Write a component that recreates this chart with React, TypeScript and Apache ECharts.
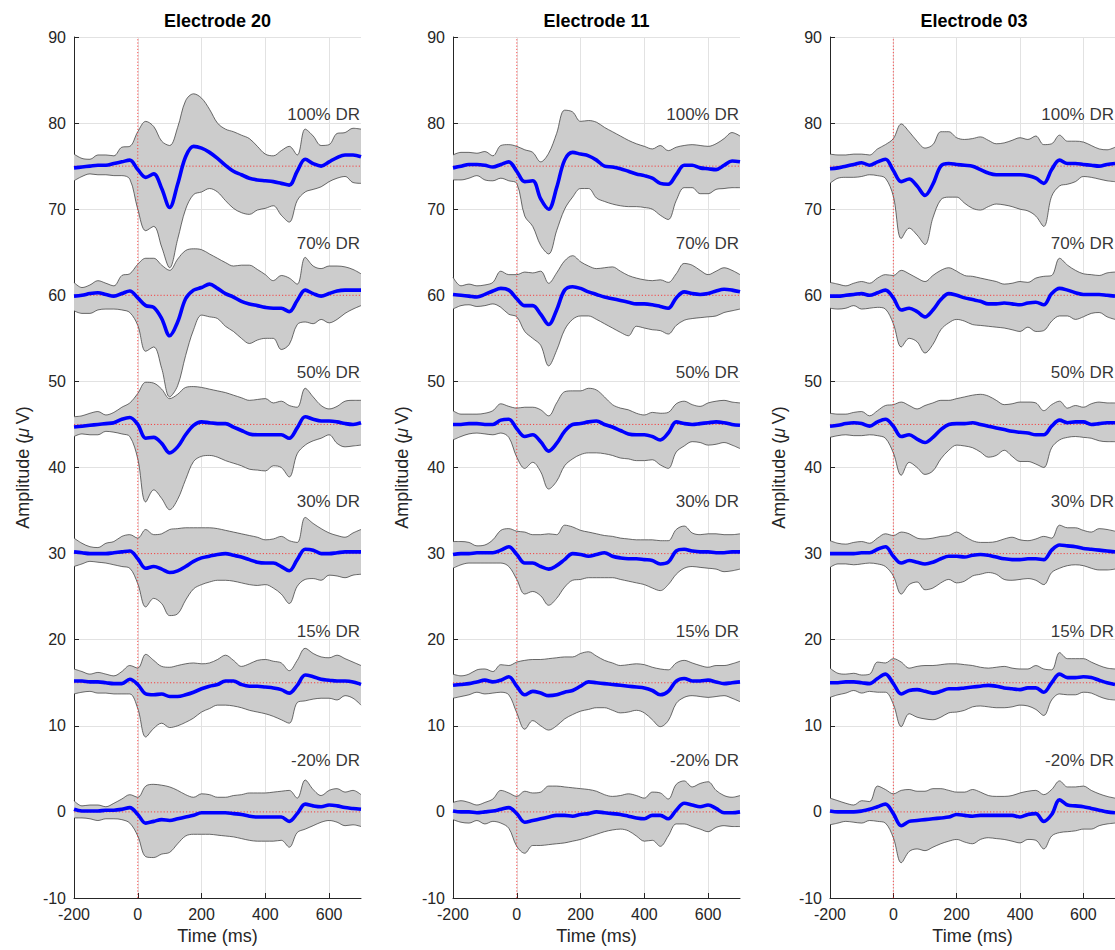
import React, { useEffect, useRef } from 'react';
import * as echarts from 'echarts';

// ---- time samples (ms) ----
const TIME = [-200, -175, -150, -125, -100, -75, -50, -25, 0, 25, 50, 75, 100, 125, 150, 175, 200, 225, 250, 275, 300, 325, 350, 375, 400, 425, 450, 475, 500, 525, 550, 575, 600, 625, 650, 675, 700];
const X_TICKS = [-200, 0, 200, 400, 600];
const Y_RANGE = [-10, 90];
const ONSET_MS = 0;
const TITLES = ['Electrode 20', 'Electrode 11', 'Electrode 03'];
const BASELINES = [75, 60, 45, 30, 15, 0];
const LEVEL_LABELS = ['100% DR', '70% DR', '50% DR', '30% DR', '15% DR', '-20% DR'];
const LABEL_OFFSET = 6;

// ---- Electrode 20 ----
const E20_100_M = [74.8, 74.9, 75.0, 75.1, 75.1, 75.3, 75.5, 75.7, 74.6, 73.7, 74.1, 72.4, 70.2, 72.9, 76.1, 77.3, 77.1, 76.6, 75.9, 75.1, 74.4, 74.0, 73.6, 73.4, 73.3, 73.2, 73.0, 72.8, 74.4, 75.8, 75.3, 75.0, 75.5, 76.0, 76.3, 76.3, 76.1];
const E20_100_U = [76.4, 75.9, 75.8, 76.3, 76.3, 76.2, 77.2, 77.3, 79.0, 80.2, 79.6, 77.9, 77.4, 79.5, 82.6, 83.4, 82.9, 81.6, 80.0, 79.3, 79.0, 78.6, 78.2, 77.3, 76.4, 76.2, 76.8, 77.3, 76.3, 79.3, 78.5, 77.4, 77.5, 78.8, 78.9, 79.4, 79.3];
const E20_100_L = [73.3, 73.8, 74.1, 74.0, 74.0, 73.9, 73.9, 73.5, 70.0, 67.5, 68.0, 65.6, 63.2, 66.5, 70.0, 71.7, 72.0, 72.4, 72.0, 71.0, 70.1, 69.6, 69.4, 69.9, 70.1, 70.4, 69.3, 68.5, 71.0, 72.0, 72.3, 72.6, 73.2, 73.6, 73.8, 73.1, 73.0];
const E20_70_M = [59.9, 60.0, 60.2, 60.3, 60.1, 59.9, 60.2, 60.5, 59.7, 58.8, 58.6, 57.3, 55.3, 56.9, 59.6, 60.6, 60.9, 61.3, 60.8, 60.2, 59.8, 59.3, 59.0, 58.8, 58.6, 58.5, 58.5, 58.1, 59.4, 60.6, 60.2, 59.9, 60.2, 60.5, 60.6, 60.6, 60.6];
const E20_70_U = [61.5, 60.9, 61.2, 61.7, 61.4, 61.1, 62.3, 62.5, 63.6, 64.3, 64.3, 63.5, 62.9, 64.2, 65.2, 65.4, 65.3, 64.8, 64.3, 63.8, 63.4, 63.5, 63.5, 63.0, 62.4, 61.7, 62.3, 62.0, 61.3, 64.4, 63.4, 63.1, 63.4, 63.4, 63.3, 63.0, 62.5];
const E20_70_L = [58.2, 57.9, 57.9, 58.3, 58.4, 58.4, 58.3, 58.0, 56.5, 53.5, 54.0, 51.5, 48.2, 49.5, 53.0, 56.0, 57.7, 57.5, 57.3, 56.4, 55.8, 55.0, 54.4, 54.8, 55.0, 55.0, 53.7, 54.3, 56.6, 56.9, 56.7, 57.2, 56.8, 57.2, 57.9, 58.4, 58.8];
const E20_50_M = [44.7, 44.8, 44.9, 45.0, 45.1, 45.2, 45.6, 45.8, 45.0, 43.4, 43.5, 42.8, 41.7, 42.4, 43.8, 44.9, 45.3, 45.2, 45.1, 45.1, 44.7, 44.3, 43.9, 43.8, 43.8, 43.8, 43.8, 43.4, 44.6, 45.9, 45.6, 45.4, 45.4, 45.3, 45.1, 45.0, 45.2];
const E20_50_U = [45.9, 46.0, 46.3, 46.5, 46.1, 46.4, 47.0, 47.5, 48.6, 49.9, 49.8, 49.1, 48.0, 48.5, 49.3, 49.4, 49.3, 49.1, 48.9, 48.7, 48.4, 48.1, 47.8, 47.9, 48.0, 47.5, 47.7, 47.2, 47.0, 49.2, 48.2, 47.2, 46.8, 47.1, 47.7, 47.8, 47.8];
const E20_50_L = [43.6, 43.9, 43.8, 43.8, 44.2, 44.1, 43.9, 43.6, 41.0, 36.0, 37.4, 36.4, 35.1, 36.3, 38.6, 40.7, 41.3, 41.4, 41.2, 40.8, 40.5, 40.2, 39.8, 39.7, 39.6, 40.2, 40.0, 38.9, 41.6, 42.6, 43.1, 43.4, 43.8, 42.8, 42.4, 42.5, 42.6];
const E20_30_M = [30.2, 30.1, 30.0, 30.0, 30.0, 30.1, 30.2, 30.3, 29.4, 28.3, 28.5, 28.2, 27.8, 28.0, 28.5, 29.1, 29.5, 29.7, 29.9, 30.0, 29.8, 29.6, 29.3, 29.0, 28.9, 28.9, 28.5, 28.0, 29.3, 30.5, 30.4, 30.0, 30.0, 30.1, 30.2, 30.2, 30.2];
const E20_30_U = [31.8, 31.2, 30.8, 30.7, 31.2, 31.4, 32.0, 32.2, 31.8, 32.8, 32.2, 32.3, 32.8, 32.9, 33.0, 33.0, 33.0, 33.0, 32.9, 32.7, 32.5, 32.3, 32.1, 31.9, 31.6, 31.7, 32.0, 31.5, 31.3, 34.2, 33.5, 32.9, 32.4, 32.1, 31.9, 32.4, 32.8];
const E20_30_L = [28.5, 28.8, 29.1, 29.0, 28.9, 28.7, 28.5, 28.3, 26.5, 23.8, 24.8, 24.2, 22.8, 23.0, 24.6, 25.9, 26.4, 26.7, 26.9, 26.9, 26.8, 26.6, 26.4, 26.3, 26.4, 26.0, 25.3, 24.2, 26.2, 27.0, 27.1, 26.9, 27.5, 27.4, 27.2, 27.5, 27.6];
const E20_15_M = [15.2, 15.2, 15.1, 15.1, 15.0, 14.9, 14.9, 15.4, 14.8, 13.7, 13.6, 13.7, 13.4, 13.4, 13.6, 13.9, 14.3, 14.6, 14.8, 15.2, 15.2, 14.8, 14.6, 14.6, 14.5, 14.4, 14.2, 13.8, 14.7, 15.9, 15.7, 15.4, 15.3, 15.2, 15.2, 15.1, 14.8];
const E20_15_U = [16.6, 16.3, 16.0, 16.2, 16.0, 15.8, 16.3, 17.0, 16.7, 18.3, 17.6, 16.9, 16.8, 17.0, 17.2, 17.3, 17.2, 17.3, 17.7, 18.2, 17.6, 16.9, 17.2, 17.6, 17.7, 17.5, 17.3, 16.4, 17.6, 19.0, 18.4, 18.0, 17.9, 18.2, 17.8, 17.4, 17.0];
const E20_15_L = [13.7, 13.9, 14.0, 13.8, 13.8, 13.7, 13.7, 13.7, 12.0, 8.7, 9.7, 10.3, 9.8, 10.0, 10.4, 10.9, 11.6, 12.0, 12.4, 12.4, 12.3, 12.1, 11.8, 11.6, 11.4, 11.1, 10.7, 10.3, 12.7, 12.9, 13.1, 13.2, 13.2, 13.0, 13.5, 13.2, 12.4];
const E20_N20_M = [0.3, 0.1, 0.1, 0.1, 0.2, 0.2, 0.3, 0.5, -0.3, -1.3, -1.1, -0.9, -1.0, -0.8, -0.6, -0.4, -0.1, -0.1, -0.1, -0.1, -0.2, -0.3, -0.5, -0.6, -0.6, -0.6, -0.6, -1.1, -0.2, 0.9, 0.7, 0.6, 0.8, 0.7, 0.5, 0.4, 0.3];
const E20_N20_U = [1.3, 0.7, 0.8, 0.8, 0.6, 1.0, 1.5, 2.0, 1.7, 3.0, 3.2, 3.1, 2.9, 2.5, 2.0, 1.7, 2.1, 2.0, 1.7, 1.7, 1.9, 2.0, 2.2, 2.2, 2.2, 2.3, 2.4, 2.5, 1.6, 3.7, 2.6, 1.9, 2.5, 2.7, 2.3, 2.5, 2.0];
const E20_N20_L = [-0.7, -0.7, -0.8, -1.0, -0.8, -0.8, -0.9, -1.3, -2.8, -5.2, -5.3, -4.9, -4.7, -3.7, -2.8, -2.6, -2.6, -2.6, -2.7, -2.8, -2.9, -3.1, -3.3, -3.4, -3.4, -3.4, -3.3, -4.1, -2.4, -2.0, -1.6, -1.2, -1.0, -1.2, -1.6, -1.5, -1.7];

// ---- Electrode 11 ----
const E11_100_M = [74.8, 75.0, 75.2, 75.2, 75.1, 74.9, 75.2, 75.5, 74.4, 73.2, 73.3, 71.2, 70.0, 72.5, 75.7, 76.6, 76.4, 76.2, 75.7, 75.0, 74.9, 74.7, 74.4, 74.1, 73.9, 73.6, 73.0, 72.9, 74.0, 75.1, 75.1, 74.8, 74.7, 74.6, 75.1, 75.6, 75.5];
const E11_100_U = [76.3, 76.6, 76.6, 76.5, 76.7, 76.2, 77.4, 77.5, 77.3, 76.9, 76.6, 75.5, 76.5, 78.8, 81.5, 81.3, 80.2, 80.3, 80.1, 79.5, 79.0, 78.5, 78.0, 77.6, 77.3, 77.0, 77.4, 76.8, 77.2, 77.4, 77.5, 77.4, 77.3, 77.6, 78.2, 78.9, 78.5];
const E11_100_L = [73.4, 73.4, 73.6, 73.9, 73.4, 73.3, 73.6, 73.3, 73.0, 69.2, 68.0, 65.8, 64.8, 67.5, 70.0, 71.4, 72.4, 72.4, 71.3, 70.9, 70.6, 70.4, 70.3, 70.3, 70.2, 70.0, 69.3, 68.8, 71.0, 72.5, 72.5, 71.8, 71.8, 72.3, 72.4, 72.5, 72.5];
const E11_70_M = [60.1, 60.0, 59.9, 59.8, 60.1, 60.5, 60.8, 60.6, 59.6, 58.8, 58.8, 57.8, 56.6, 58.3, 60.6, 61.0, 60.8, 60.4, 60.1, 59.8, 59.6, 59.4, 59.2, 59.0, 59.0, 58.9, 58.7, 58.5, 59.7, 60.4, 60.2, 60.1, 60.2, 60.5, 60.7, 60.6, 60.4];
const E11_70_U = [62.1, 61.1, 61.3, 61.1, 61.2, 61.5, 62.8, 62.4, 62.4, 62.7, 62.6, 62.8, 61.4, 62.6, 64.0, 64.6, 63.9, 63.4, 63.1, 63.2, 63.3, 62.8, 62.3, 62.0, 61.8, 61.7, 61.8, 61.5, 62.5, 63.7, 63.5, 62.9, 62.4, 62.8, 63.2, 62.9, 62.4];
const E11_70_L = [58.4, 58.8, 58.9, 58.7, 58.8, 59.0, 58.6, 57.8, 57.5, 55.8, 55.0, 54.2, 51.8, 53.6, 56.0, 57.2, 57.6, 57.6, 57.2, 56.7, 56.2, 55.7, 55.3, 56.4, 56.2, 56.0, 55.9, 55.5, 56.5, 57.1, 57.3, 57.4, 57.5, 57.6, 58.0, 58.2, 58.4];
const E11_50_M = [45.0, 45.0, 45.1, 45.1, 45.0, 45.0, 45.5, 45.6, 44.5, 43.6, 43.8, 43.0, 41.9, 42.8, 44.2, 45.0, 45.1, 45.3, 45.4, 45.0, 44.7, 44.3, 43.9, 43.8, 43.8, 43.6, 43.2, 44.0, 45.3, 45.1, 45.0, 45.1, 45.2, 45.3, 45.2, 45.0, 44.9];
const E11_50_U = [46.6, 46.2, 46.2, 46.2, 46.3, 46.6, 47.4, 47.1, 46.9, 47.0, 47.0, 46.7, 46.0, 47.5, 48.8, 48.9, 48.9, 49.2, 49.0, 48.2, 47.3, 46.9, 46.7, 46.3, 46.1, 46.4, 46.3, 46.4, 47.4, 47.7, 47.3, 47.1, 47.5, 47.7, 47.8, 47.6, 47.5];
const E11_50_L = [43.2, 43.6, 43.9, 44.0, 43.9, 43.8, 44.0, 43.5, 41.2, 39.9, 40.6, 39.5, 37.5, 38.4, 40.2, 41.0, 41.5, 41.7, 41.7, 41.6, 41.4, 41.1, 41.0, 40.8, 40.8, 40.9, 40.3, 39.9, 41.8, 42.5, 43.0, 42.9, 42.6, 42.7, 42.9, 42.6, 42.2];
const E11_30_M = [29.9, 30.0, 30.0, 30.1, 30.1, 30.1, 30.4, 30.8, 29.9, 28.9, 28.9, 28.5, 28.2, 28.6, 29.3, 30.0, 29.9, 29.7, 29.9, 30.1, 29.7, 29.5, 29.4, 29.4, 29.3, 29.2, 28.8, 29.0, 30.3, 30.5, 30.3, 30.2, 30.2, 30.1, 30.1, 30.2, 30.2];
const E11_30_U = [31.4, 31.4, 31.3, 30.9, 31.0, 31.6, 32.7, 32.9, 32.6, 32.5, 32.2, 32.2, 32.3, 32.2, 33.3, 33.1, 32.7, 32.5, 32.3, 32.1, 32.0, 31.8, 31.7, 31.6, 31.6, 31.6, 31.5, 31.5, 32.8, 33.2, 32.4, 32.2, 32.3, 32.3, 32.2, 32.2, 32.3];
const E11_30_L = [28.3, 28.7, 28.9, 28.9, 28.9, 28.9, 28.9, 28.5, 27.0, 25.3, 25.6, 25.1, 24.0, 24.8, 26.1, 26.9, 27.0, 27.2, 27.2, 27.2, 27.2, 27.0, 26.8, 26.6, 26.4, 26.0, 25.7, 26.4, 27.6, 28.3, 28.5, 28.4, 28.3, 28.2, 27.9, 28.0, 28.2];
const E11_15_M = [14.7, 14.8, 14.9, 15.1, 15.3, 15.1, 15.3, 15.7, 14.6, 13.6, 14.0, 13.8, 13.5, 13.6, 13.9, 14.1, 14.6, 15.1, 15.0, 14.9, 14.8, 14.7, 14.6, 14.5, 14.4, 14.1, 13.6, 14.0, 15.2, 15.5, 15.2, 15.2, 15.3, 15.1, 14.9, 15.0, 15.1];
const E11_15_U = [16.0, 15.8, 16.0, 16.5, 16.6, 16.3, 17.1, 17.0, 17.4, 17.6, 17.7, 17.7, 17.8, 17.9, 18.0, 18.0, 18.4, 18.6, 18.1, 17.6, 17.3, 17.0, 17.1, 17.2, 17.1, 16.8, 16.6, 16.5, 17.3, 17.6, 17.3, 17.0, 16.8, 17.0, 17.0, 17.2, 17.5];
const E11_15_L = [13.2, 13.4, 13.6, 13.9, 13.7, 13.8, 13.9, 13.6, 11.5, 9.6, 10.6, 10.0, 9.5, 10.0, 10.8, 11.3, 11.7, 11.9, 12.1, 12.1, 11.8, 11.5, 11.6, 11.8, 11.5, 10.7, 9.9, 10.6, 12.6, 13.3, 13.5, 13.4, 13.3, 13.4, 13.5, 13.2, 12.8];
const E11_N20_M = [0.1, 0.0, 0.0, -0.1, 0.0, 0.1, 0.3, 0.5, -0.2, -1.2, -1.0, -0.8, -0.6, -0.4, -0.4, -0.5, -0.3, -0.2, 0.0, -0.1, -0.2, -0.3, -0.5, -0.7, -0.8, -0.4, -0.4, -0.8, 0.2, 1.0, 0.8, 0.6, 0.8, 0.4, -0.1, -0.1, 0.0];
const E11_N20_U = [1.1, 1.3, 1.1, 0.8, 1.1, 1.5, 2.5, 2.2, 1.8, 2.4, 2.2, 2.3, 3.0, 3.0, 2.9, 2.8, 2.7, 2.6, 2.4, 2.0, 1.8, 1.9, 2.1, 1.9, 1.6, 2.3, 2.2, 1.5, 3.2, 3.6, 2.9, 3.3, 3.5, 2.5, 1.9, 1.7, 1.9];
const E11_N20_L = [-0.9, -1.2, -1.3, -1.0, -1.4, -1.1, -1.3, -1.9, -4.0, -4.8, -3.9, -3.9, -3.8, -3.7, -3.6, -3.4, -3.2, -2.9, -2.6, -2.3, -2.1, -2.0, -2.2, -2.8, -3.4, -3.3, -4.0, -2.8, -1.4, -1.4, -1.7, -2.0, -2.3, -1.8, -1.6, -1.7, -1.7];

// ---- Electrode 03 ----
const E03_100_M = [74.7, 74.8, 75.0, 75.2, 75.4, 75.1, 75.5, 75.8, 74.5, 73.2, 73.5, 72.7, 71.6, 72.9, 75.0, 75.3, 75.2, 75.1, 75.0, 74.6, 74.2, 74.0, 74.0, 74.0, 74.0, 73.9, 73.6, 73.0, 74.6, 75.7, 75.3, 75.3, 75.2, 75.1, 75.0, 75.2, 75.3];
const E03_100_U = [76.4, 76.3, 76.3, 76.4, 76.4, 76.3, 77.0, 77.5, 78.2, 79.9, 79.0, 77.9, 77.1, 77.5, 79.0, 79.0, 78.3, 78.1, 78.2, 78.4, 78.0, 77.6, 77.7, 78.0, 78.3, 78.1, 78.5, 77.5, 77.6, 78.6, 77.9, 77.9, 77.8, 77.4, 77.0, 76.9, 77.2];
const E03_100_L = [73.0, 73.6, 73.7, 73.7, 73.8, 74.0, 73.9, 73.6, 71.5, 66.6, 67.8, 67.0, 65.9, 69.0, 71.1, 71.4, 71.4, 70.7, 70.1, 69.9, 70.3, 70.6, 70.5, 70.3, 70.0, 69.8, 69.2, 68.0, 71.5, 72.7, 72.9, 73.2, 73.8, 73.7, 73.5, 73.3, 73.2];
const E03_70_M = [59.9, 59.9, 60.0, 60.1, 60.2, 60.0, 60.3, 60.6, 59.7, 58.3, 58.5, 58.1, 57.5, 58.3, 59.5, 60.2, 60.0, 59.7, 59.5, 59.3, 59.0, 59.0, 59.1, 59.0, 58.9, 59.1, 59.2, 58.9, 60.2, 60.8, 60.6, 60.3, 60.1, 60.1, 60.1, 60.0, 59.9];
const E03_70_U = [61.5, 61.3, 61.1, 61.4, 61.6, 61.4, 62.0, 62.4, 62.3, 62.9, 62.5, 62.0, 61.6, 62.3, 62.9, 63.2, 62.8, 62.3, 62.2, 62.0, 61.8, 61.6, 61.3, 61.4, 61.6, 61.5, 62.0, 62.2, 62.3, 64.3, 63.5, 62.9, 62.5, 62.4, 62.3, 62.6, 62.7];
const E03_70_L = [58.5, 58.4, 58.5, 58.8, 58.4, 58.5, 58.6, 58.4, 56.7, 54.0, 55.0, 54.6, 53.3, 54.3, 56.0, 56.8, 57.2, 57.0, 56.6, 56.5, 56.4, 56.3, 56.2, 56.0, 55.8, 56.3, 55.8, 55.9, 57.0, 57.6, 57.6, 57.2, 57.5, 57.9, 58.0, 57.5, 57.2];
const E03_50_M = [44.8, 44.9, 45.1, 45.2, 45.1, 44.8, 45.3, 45.6, 44.8, 43.6, 43.8, 43.3, 42.9, 43.5, 44.4, 45.0, 45.1, 45.1, 45.2, 45.0, 44.8, 44.6, 44.4, 44.2, 44.1, 44.0, 43.8, 43.8, 44.8, 45.5, 45.2, 45.3, 45.3, 45.0, 45.1, 45.2, 45.2];
const E03_50_U = [46.3, 46.2, 46.2, 46.4, 46.5, 46.0, 46.6, 47.2, 47.3, 47.6, 47.2, 46.8, 47.2, 47.5, 47.8, 47.8, 48.0, 48.2, 48.4, 48.5, 48.3, 47.8, 47.3, 47.4, 47.6, 47.6, 47.5, 46.6, 47.3, 47.7, 46.9, 47.2, 47.0, 47.4, 47.6, 47.5, 47.5];
const E03_50_L = [43.5, 43.7, 43.8, 43.7, 43.7, 43.8, 43.7, 43.4, 41.7, 39.1, 40.6, 40.0, 39.2, 39.6, 41.0, 42.0, 42.6, 42.5, 42.3, 41.8, 41.2, 41.4, 42.0, 41.3, 40.7, 40.7, 40.4, 40.0, 42.3, 43.2, 43.5, 43.6, 43.5, 43.4, 43.1, 43.0, 43.0];
const E03_30_M = [30.0, 30.0, 30.0, 30.0, 30.1, 30.1, 30.5, 30.8, 29.7, 28.9, 29.2, 29.0, 28.8, 29.0, 29.4, 29.7, 29.7, 29.6, 29.8, 29.9, 29.8, 29.6, 29.4, 29.3, 29.3, 29.4, 29.4, 29.3, 30.4, 31.0, 30.9, 30.8, 30.6, 30.5, 30.4, 30.3, 30.2];
const E03_30_U = [31.5, 31.2, 31.1, 31.3, 31.4, 31.2, 31.8, 32.3, 32.1, 32.5, 32.3, 31.8, 31.7, 31.8, 32.0, 32.1, 32.5, 32.0, 31.5, 31.3, 31.3, 31.4, 31.7, 31.9, 31.6, 31.5, 31.7, 32.0, 31.8, 33.3, 33.0, 33.0, 32.7, 32.5, 32.9, 32.8, 32.6];
const E03_30_L = [28.4, 28.8, 28.8, 28.7, 28.8, 28.9, 28.8, 28.5, 27.4, 25.3, 26.4, 26.7, 25.8, 26.0, 26.6, 27.0, 26.6, 26.8, 27.4, 27.6, 27.8, 27.6, 27.0, 26.9, 27.0, 27.1, 26.9, 26.4, 27.8, 28.3, 28.6, 28.7, 28.6, 28.3, 28.1, 28.1, 28.2];
const E03_15_M = [15.0, 15.0, 15.1, 15.1, 15.0, 14.9, 15.5, 16.0, 14.9, 13.7, 14.1, 14.2, 14.0, 13.8, 14.0, 14.3, 14.3, 14.4, 14.5, 14.6, 14.7, 14.6, 14.4, 14.3, 14.2, 14.4, 14.4, 13.9, 15.0, 16.0, 15.6, 15.6, 15.7, 15.6, 15.3, 15.0, 14.8];
const E03_15_U = [16.7, 16.1, 16.0, 16.1, 15.9, 16.0, 17.4, 17.3, 17.8, 17.4, 16.7, 16.9, 17.0, 17.0, 17.1, 17.2, 17.2, 17.1, 17.0, 16.8, 16.7, 16.8, 16.9, 16.7, 16.6, 16.6, 17.0, 16.6, 16.5, 18.5, 17.8, 17.8, 17.8, 17.4, 17.0, 16.7, 16.6];
const E03_15_L = [13.3, 13.6, 13.8, 14.1, 13.8, 14.0, 13.9, 13.9, 12.5, 9.9, 11.4, 11.0, 10.8, 10.7, 11.0, 11.5, 11.6, 11.8, 12.2, 12.3, 12.2, 12.1, 12.1, 12.2, 12.4, 12.3, 11.9, 11.2, 13.0, 13.7, 13.6, 13.6, 13.9, 13.8, 13.4, 13.1, 13.0];
const E03_N20_M = [0.1, 0.0, 0.0, 0.0, 0.1, 0.3, 0.6, 0.9, -0.2, -1.6, -1.1, -1.0, -0.9, -0.8, -0.7, -0.6, -0.3, -0.4, -0.5, -0.4, -0.4, -0.4, -0.4, -0.4, -0.6, -0.3, -0.2, -1.1, -0.3, 1.4, 0.8, 0.7, 0.6, 0.4, 0.2, 0.0, -0.1];
const E03_N20_U = [1.6, 1.3, 1.0, 0.8, 1.3, 1.2, 3.0, 2.6, 2.1, 2.5, 2.6, 2.4, 2.4, 2.7, 2.7, 2.5, 2.3, 2.3, 2.6, 2.3, 1.9, 1.8, 1.8, 1.9, 2.2, 2.4, 2.5, 2.0, 2.6, 3.6, 2.9, 2.9, 3.0, 2.5, 2.1, 1.8, 1.6];
const E03_N20_L = [-1.5, -1.3, -1.1, -1.2, -1.3, -1.0, -1.1, -1.3, -3.0, -5.9, -4.6, -4.3, -4.5, -4.1, -3.7, -3.4, -3.2, -3.5, -3.7, -3.2, -3.0, -3.1, -3.2, -3.4, -3.6, -3.2, -3.3, -4.3, -2.8, -2.4, -2.3, -2.2, -2.0, -2.0, -1.6, -1.4, -1.3];

const PANELS = [
  {
    means: [E20_100_M, E20_70_M, E20_50_M, E20_30_M, E20_15_M, E20_N20_M],
    uppers: [E20_100_U, E20_70_U, E20_50_U, E20_30_U, E20_15_U, E20_N20_U],
    lowers: [E20_100_L, E20_70_L, E20_50_L, E20_30_L, E20_15_L, E20_N20_L],
  },
  {
    means: [E11_100_M, E11_70_M, E11_50_M, E11_30_M, E11_15_M, E11_N20_M],
    uppers: [E11_100_U, E11_70_U, E11_50_U, E11_30_U, E11_15_U, E11_N20_U],
    lowers: [E11_100_L, E11_70_L, E11_50_L, E11_30_L, E11_15_L, E11_N20_L],
  },
  {
    means: [E03_100_M, E03_70_M, E03_50_M, E03_30_M, E03_15_M, E03_N20_M],
    uppers: [E03_100_U, E03_70_U, E03_50_U, E03_30_U, E03_15_U, E03_N20_U],
    lowers: [E03_100_L, E03_70_L, E03_50_L, E03_30_L, E03_15_L, E03_N20_L],
  },
];

// ---- layout / style ----
const FONT = '"Liberation Sans", Arial, Helvetica, sans-serif';
const GRID_LEFT = [74, 453, 830];
const GRID_WIDTH = [287, 287, 288];
const GRID_TOP = 37;
const GRID_HEIGHT = 865;
const AXIS_COLOR = '#262626';
const GRID_COLOR = '#e2e2e2';
const BAND_FILL = '#cccccc';
const BAND_EDGE = '#303030';
const MEAN_COLOR = '#0000ff';
const REF_COLOR = '#ff2020';
const SMOOTH = 0.35;

function buildOption() {
  const cats = TIME.map(String);
  const isTick = (_i: number, v: string) => X_TICKS.indexOf(Number(v)) >= 0;
  const onsetIndex = TIME.indexOf(ONSET_MS);
  const lastIndex = TIME.length - 1;
  const refStyle = { color: REF_COLOR, width: 0.8, type: [1.2, 2] };

  const grid: any[] = [];
  const xAxis: any[] = [];
  const yAxis: any[] = [];
  const series: any[] = [];
  const graphic: any[] = [];

  PANELS.forEach((panel, p) => {
    grid.push({ left: GRID_LEFT[p], top: GRID_TOP, width: GRID_WIDTH[p], height: GRID_HEIGHT, containLabel: false });
    xAxis.push({
      type: 'category',
      gridIndex: p,
      data: cats,
      boundaryGap: false,
      axisLine: { show: true, onZero: false, lineStyle: { color: AXIS_COLOR, width: 1 } },
      axisTick: { show: true, inside: true, length: 5, interval: isTick, lineStyle: { color: AXIS_COLOR } },
      axisLabel: { show: true, interval: isTick, color: AXIS_COLOR, fontSize: 16, fontFamily: FONT, margin: 8 },
      splitLine: { show: true, interval: isTick, lineStyle: { color: GRID_COLOR, width: 1 } },
      name: 'Time (ms)',
      nameLocation: 'middle',
      nameGap: 29,
      nameTextStyle: { color: AXIS_COLOR, fontSize: 18, fontFamily: FONT },
    });
    yAxis.push({
      type: 'value',
      gridIndex: p,
      min: Y_RANGE[0],
      max: Y_RANGE[1],
      interval: 10,
      axisLine: { show: true, onZero: false, lineStyle: { color: AXIS_COLOR, width: 1 } },
      axisTick: { show: true, inside: true, length: 5, lineStyle: { color: AXIS_COLOR } },
      axisLabel: { color: AXIS_COLOR, fontSize: 16, fontFamily: FONT, margin: 8 },
      splitLine: { show: true, lineStyle: { color: GRID_COLOR, width: 1 } },
      name: 'Amplitude ({it|μ}\u2009V)',
      nameLocation: 'middle',
      nameGap: 42,
      nameRotate: 90,
      nameTextStyle: {
        color: AXIS_COLOR,
        fontSize: 18,
        fontFamily: FONT,
        rich: { it: { fontStyle: 'italic', fontSize: 18, fontFamily: FONT, color: AXIS_COLOR } },
      },
    });

    // bands
    panel.lowers.forEach((lo, k) => {
      const hi = panel.uppers[k];
      const stack = `band-${p}-${k}`;
      series.push({
        type: 'line',
        xAxisIndex: p,
        yAxisIndex: p,
        data: lo,
        stack,
        stackStrategy: 'all',
        smooth: SMOOTH,
        symbol: 'none',
        silent: true,
        itemStyle: { color: BAND_EDGE },
        lineStyle: { color: BAND_EDGE, width: 0.7 },
        z: 3,
      });
      series.push({
        type: 'line',
        xAxisIndex: p,
        yAxisIndex: p,
        data: hi.map((v, j) => Math.round((v - lo[j]) * 100) / 100),
        stack,
        stackStrategy: 'all',
        smooth: SMOOTH,
        symbol: 'none',
        silent: true,
        itemStyle: { color: BAND_EDGE },
        lineStyle: { color: BAND_EDGE, width: 0.7 },
        areaStyle: { color: BAND_FILL, opacity: 1 },
        z: 2,
      });
    });

    // reference lines: baselines
    BASELINES.forEach((b) => {
      series.push({
        type: 'line',
        xAxisIndex: p,
        yAxisIndex: p,
        data: TIME.map(() => b),
        symbol: 'none',
        silent: true,
        itemStyle: { color: REF_COLOR },
        lineStyle: refStyle,
        z: 4,
      });
    });
    // reference line: stimulus onset
    series.push({
      type: 'line',
      xAxisIndex: p,
      yAxisIndex: p,
      data: [[onsetIndex, Y_RANGE[0]], [onsetIndex, Y_RANGE[1]]],
      symbol: 'none',
      silent: true,
      itemStyle: { color: REF_COLOR },
      lineStyle: refStyle,
      z: 4,
    });

    // means
    panel.means.forEach((m) => {
      series.push({
        type: 'line',
        xAxisIndex: p,
        yAxisIndex: p,
        data: m,
        smooth: SMOOTH,
        symbol: 'none',
        silent: true,
        itemStyle: { color: MEAN_COLOR },
        lineStyle: { color: MEAN_COLOR, width: 3.6 },
        z: 5,
      });
    });

    // level labels
    series.push({
      type: 'scatter',
      xAxisIndex: p,
      yAxisIndex: p,
      symbolSize: 0,
      silent: true,
      clip: false,
      itemStyle: { color: '#000' },
      data: BASELINES.map((b, k) => ({
        value: [lastIndex, b + LABEL_OFFSET],
        label: { formatter: LEVEL_LABELS[k], color: '#000' },
      })),
      label: { show: true, position: 'left', distance: 1, color: '#000', fontSize: 17, fontFamily: FONT },
      z: 6,
    });

    graphic.push({
      type: 'text',
      x: GRID_LEFT[p] + GRID_WIDTH[p] / 2,
      y: 21,
      style: {
        text: TITLES[p],
        fill: '#000',
        font: `bold 18px ${FONT}`,
        align: 'center',
        verticalAlign: 'middle',
        textAlign: 'center',
        textVerticalAlign: 'middle',
      },
    });
  });

  return {
    animation: false,
    backgroundColor: '#ffffff',
    grid,
    xAxis,
    yAxis,
    series,
    graphic,
  };
}

export default function App() {
  const ref = useRef<HTMLDivElement>(null);
  useEffect(() => {
    if (!ref.current) return;
    const chart = echarts.init(ref.current, null, { renderer: 'svg' });
    chart.setOption(buildOption() as any);
    return () => chart.dispose();
  }, []);
  return <div ref={ref} style={{ position: 'absolute', left: 0, top: 0, width: 1115, height: 950 }} />;
}
